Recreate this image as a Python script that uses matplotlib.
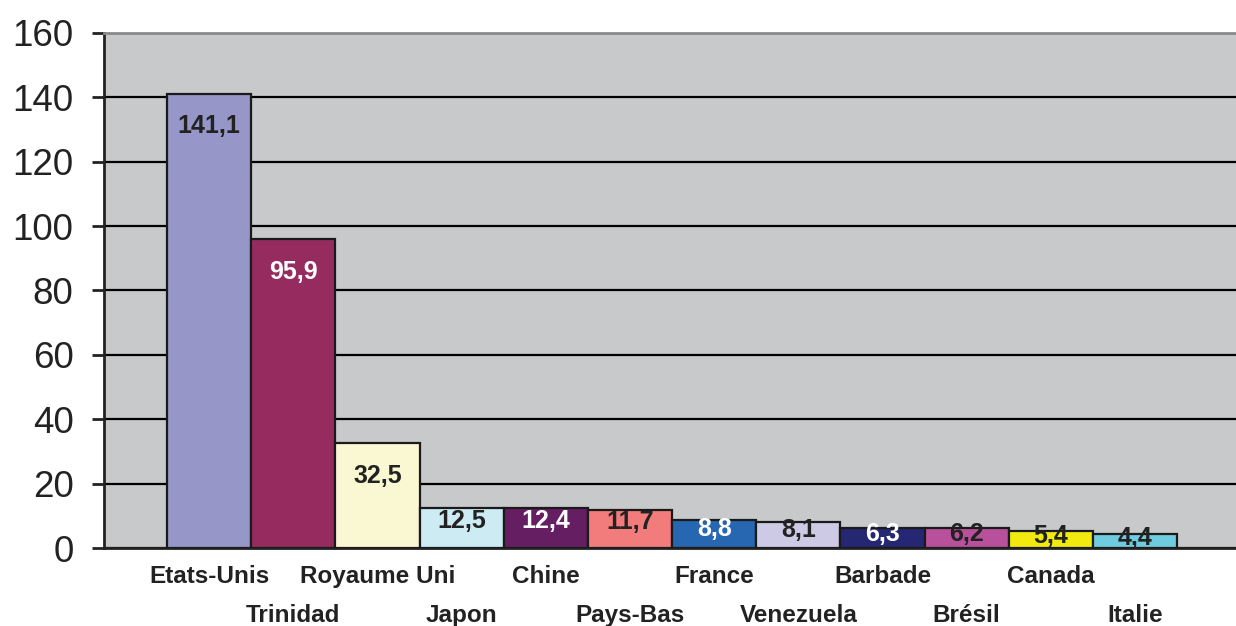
import numpy as np
import matplotlib.pyplot as plt

plt.rcParams['font.family'] = ['Liberation Sans', 'DejaVu Sans']

# data
pays = ['Etats-Unis', 'Trinidad', 'Royaume Uni', 'Japon', 'Chine', 'Pays-Bas',
        'France', 'Venezuela', 'Barbade', 'Brésil', 'Canada', 'Italie']
valeurs = [141.1, 95.9, 32.5, 12.5, 12.4, 11.7, 8.8, 8.1, 6.3, 6.2, 5.4, 4.4]
couleurs = ['#9696C8', '#962B5F', '#FAF8D2', '#CCEBF2', '#661E63', '#F27B7B',
            '#2766B0', '#CDCAE6', '#262773', '#B8509B', '#F2EA0F', '#6ECCDE']
couleurs_texte = ['#222222', 'white', '#222222', '#222222', 'white', '#222222',
                  'white', '#222222', 'white', '#222222', '#222222', '#222222']

fig = plt.figure(figsize=(12.36, 6.26), dpi=100)
ax = fig.add_axes([0.0841, 0.1246, 0.9159, 0.8227])
ax.set_facecolor('#C8C9CB')

x = np.arange(len(pays))
ax.set_ylim(0, 160)
ax.set_xlim(-1.25, 12.2)
ax.set_yticks(np.arange(0, 161, 20))
ax.yaxis.grid(True, color='black', linewidth=1.6)
ax.set_axisbelow(True)

ax.bar(x, valeurs, width=1.0, color=couleurs, edgecolor='#1a1a1a', linewidth=1.6, zorder=3)

# value labels inside the top of each bar
for i, v in enumerate(valeurs):
    y_txt = max(v - 10, v * 0.68)
    ax.text(i, y_txt, f'{v:.1f}'.replace('.', ','), ha='center', va='center',
            fontsize=18, fontweight='bold', color=couleurs_texte[i], zorder=4)

# category labels on two alternating rows (major = top row, minor = bottom row)
ax.set_xticks(x[::2])
ax.set_xticklabels(pays[::2], fontsize=17.5, fontweight='bold', color='#222222')
ax.set_xticks(x[1::2], minor=True)
ax.set_xticklabels(pays[1::2], minor=True, fontsize=17.5, fontweight='bold', color='#222222')
ax.tick_params(axis='x', which='major', length=0, pad=12)
ax.tick_params(axis='x', which='minor', length=0, pad=40)
ax.tick_params(axis='y', labelsize=26.5, length=9, width=2, color='#222222',
               labelcolor='#222222', pad=13)

ax.spines['left'].set_linewidth(2)
ax.spines['left'].set_color('#222222')
ax.spines['bottom'].set_linewidth(2)
ax.spines['bottom'].set_color('#222222')
ax.spines['top'].set_color('#8a8a8a')
ax.spines['top'].set_linewidth(2)
ax.spines['right'].set_visible(False)

plt.savefig('out.png', dpi=100)
